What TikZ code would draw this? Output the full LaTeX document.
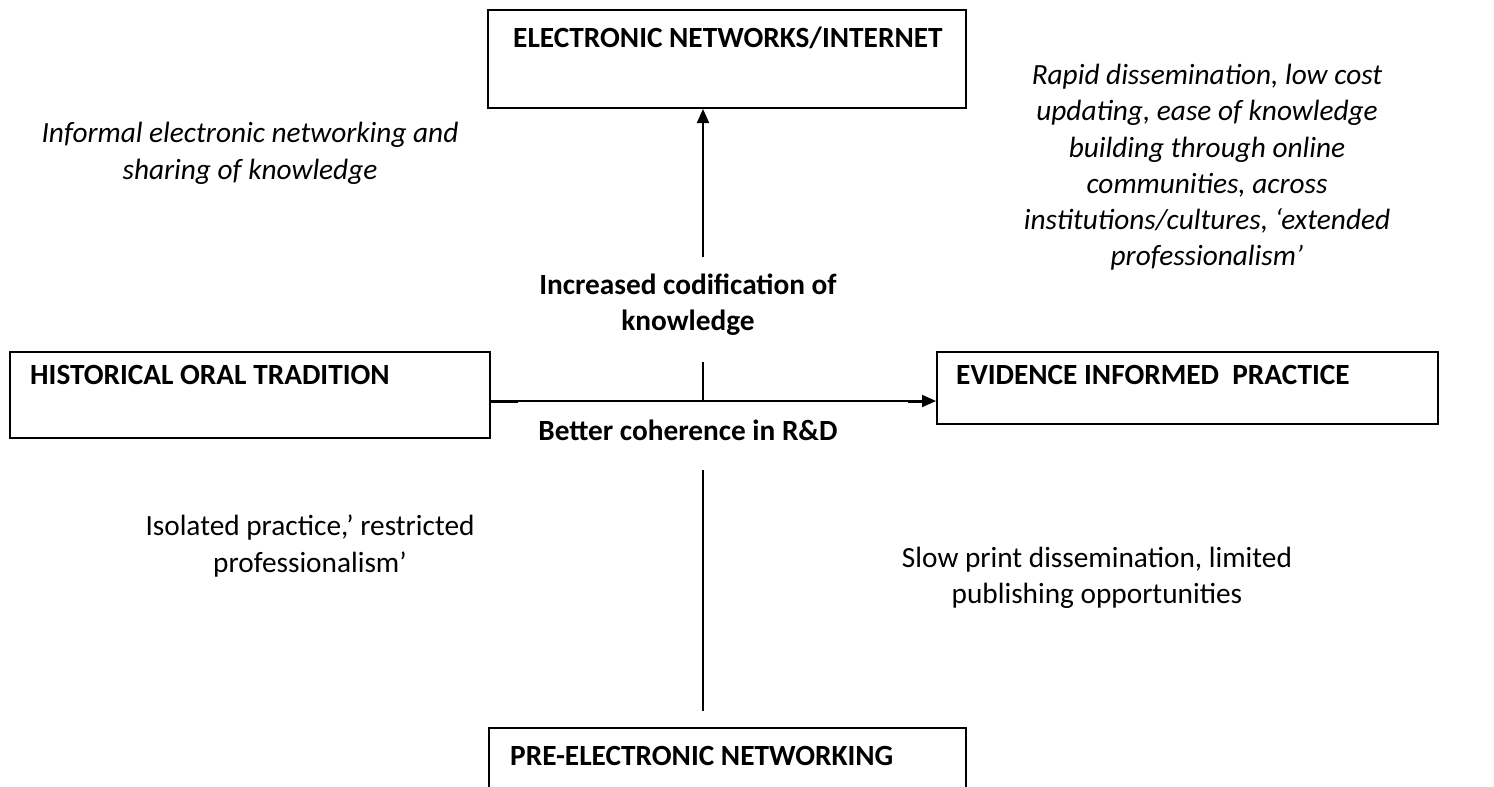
\documentclass[tikz,border=0pt]{standalone}
\usepackage{fontspec}
\setmainfont{Carlito}
\usetikzlibrary{arrows.meta}
\begin{document}
\begin{tikzpicture}[x=1pt,y=-1pt,
  every node/.style={font=\fontsize{29.3}{36.3}\selectfont, inner sep=0pt},
  boxstyle/.style={draw, line width=2pt, anchor=north west},
  titlestyle/.style={font=\fontsize{29.3}{36.3}\selectfont\bfseries, anchor=base west},
  boldlabel/.style={font=\fontsize{29.3}{36.3}\selectfont\bfseries, align=center},
  itlabel/.style={font=\fontsize{29.3}{36.3}\selectfont\itshape, align=center},
  uplabel/.style={align=center},
  conn/.style={line width=2pt},
  stub/.style={line width=3pt},
  tip/.style={-{Triangle[length=14pt,width=12pt]}}
]
\useasboundingbox (0,0) rectangle (1494,787);
% boxes
\node[boxstyle, minimum width=478pt, minimum height=98pt] (tb) at (487,9) {};
\node[titlestyle] (tbt) at (513,47) {ELECTRONIC NETWORKS/INTERNET};
\node[boxstyle, minimum width=480pt, minimum height=86pt] (lb) at (9,351) {};
\node[titlestyle] (lbt) at (30,384) {HISTORICAL ORAL TRADITION};
\node[boxstyle, minimum width=501pt, minimum height=72pt] (rb) at (936,351) {};
\node[titlestyle] (rbt) at (956,384) {EVIDENCE INFORMED\ \ PRACTICE};
\node[boxstyle, minimum width=477pt, minimum height=100pt] (bb) at (488,727) {};
\node[titlestyle] (bbt) at (510,765) {PRE-ELECTRONIC NETWORKING};
% coordinates for line ends
\coordinate (vtop) at (703,257);
\coordinate (vmidtop) at (703,362);
\coordinate (cross) at (703,401);
\coordinate (vbottop) at (703,470);
\coordinate (vbotend) at (703,711);
\coordinate (hl) at (489,401);
\coordinate (hr) at (936,401);
\coordinate (hlstub) at (518,401);
\coordinate (hrstub) at (908,401);
% connectors
\draw[conn, tip] (vtop) -- (tb.south -| vtop);
\draw[conn] (vmidtop) -- (cross);
\draw[conn] (vbottop) -- (vbotend);
\draw[conn, tip] (lb.east |- hl) -- (rb.west |- hr);
\draw[stub] (lb.east |- hl) -- (hlstub);
\draw[stub] (hrstub) -- ([xshift=-10pt]rb.west |- hr);
% labels
\node[boldlabel] (codif) at (688,305) {Increased codification of\\knowledge};
\node[boldlabel] (coher) at (688,430) {Better coherence in R\&D};
\node[itlabel] (informal) at (250,153.3) {Informal electronic networking and\\sharing of knowledge};
\node[itlabel] (rapid) at (1207,167.4) {Rapid dissemination, low cost\\updating, ease of knowledge\\building through online\\communities, across\\institutions/cultures, ‘extended\\professionalism’};
\node[uplabel] (isolated) at (310,546) {Isolated practice,’ restricted\\professionalism’};
\node[uplabel] (slow) at (1097,578) {Slow print dissemination, limited\\publishing opportunities};
\end{tikzpicture}
\end{document}
